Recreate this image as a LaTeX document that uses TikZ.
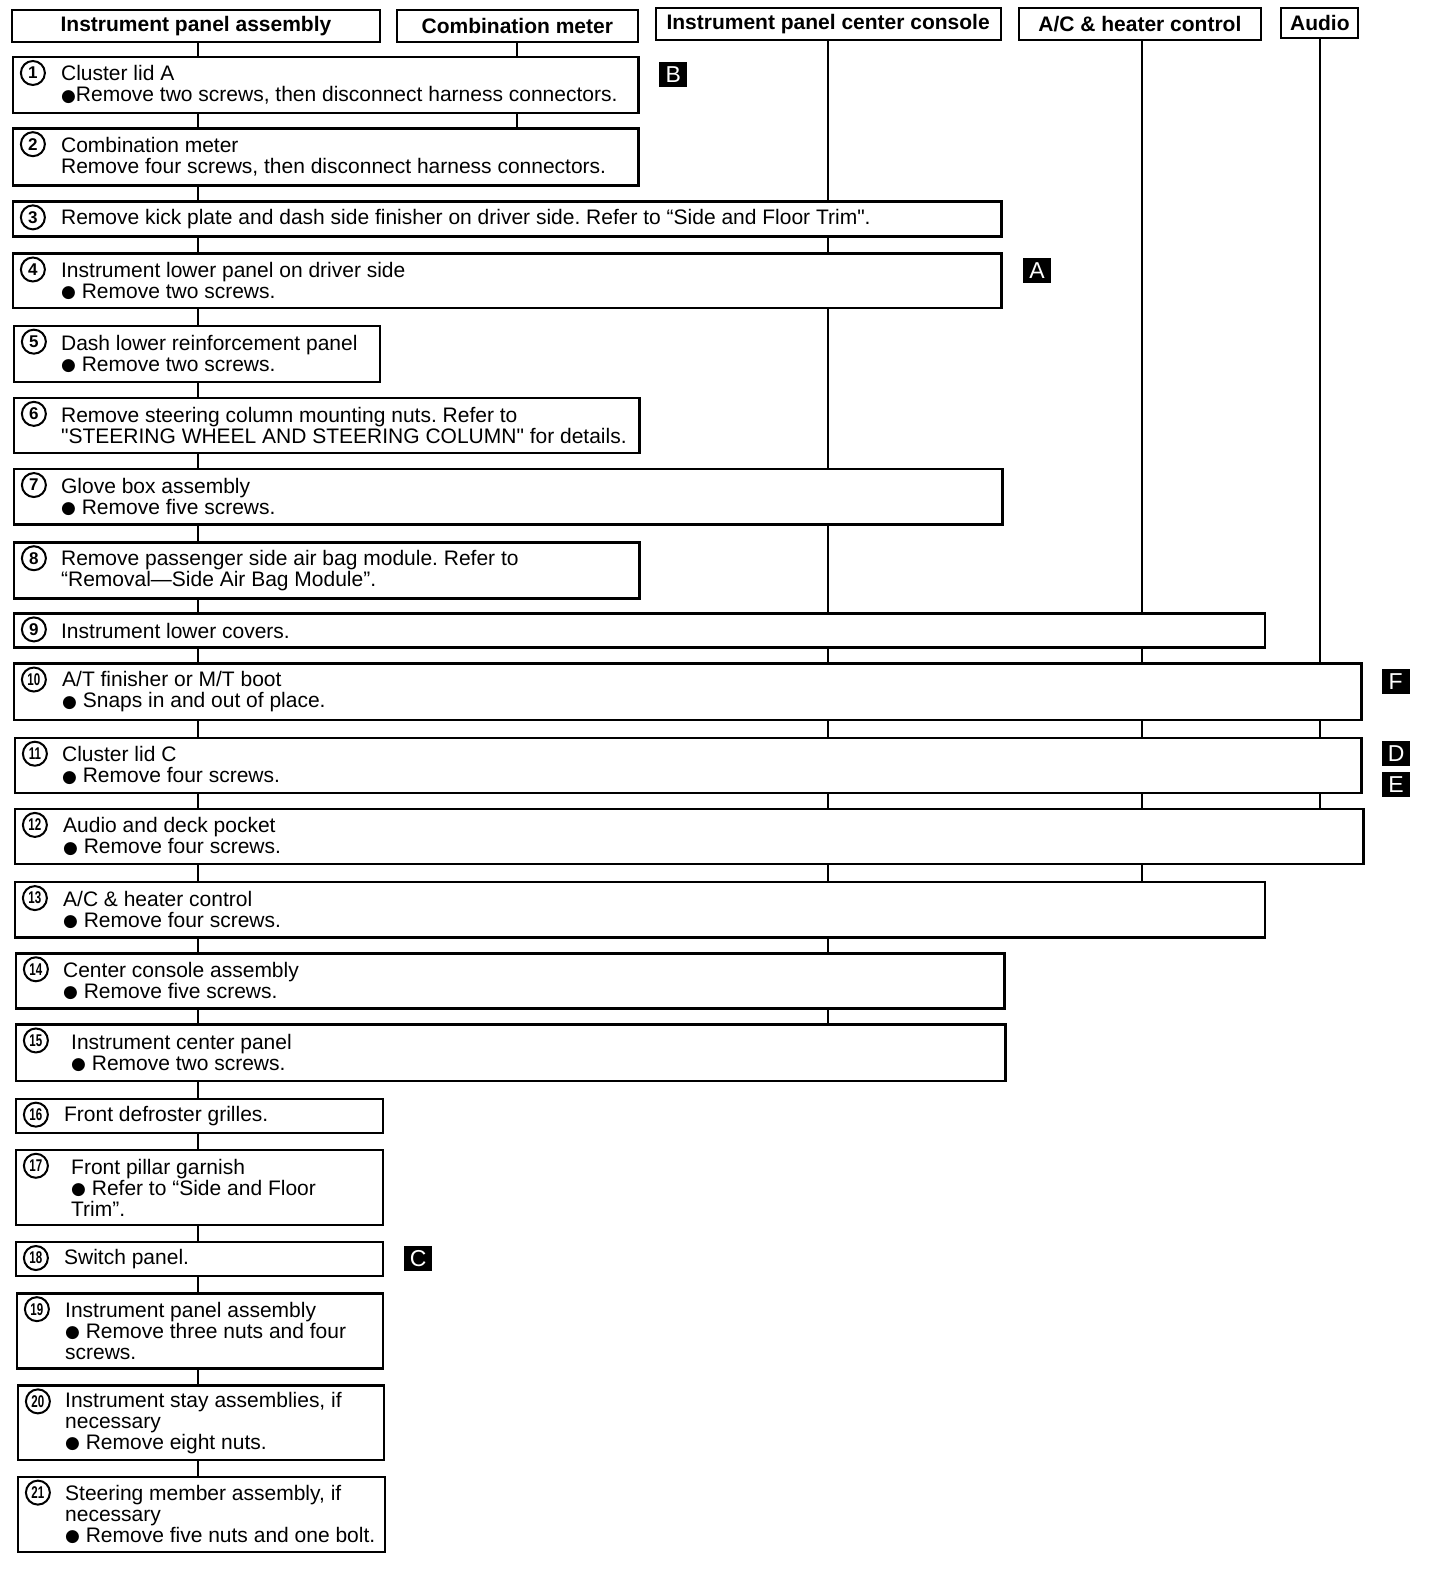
\documentclass[tikz,border=0pt]{standalone}
\usepackage{fontspec}
\setmainfont{Liberation Sans}[Ligatures=TeXOff]
\newfontfamily\symf{DejaVu Sans}
\usetikzlibrary{calc,fit}
\frenchspacing
\tikzset{
  sbox/.style={draw, line width=2.4pt, fill=white, inner sep=0pt, rectangle},
  hbox/.style={draw, line width=2pt, fill=white, inner sep=0pt, rectangle},
  htxt/.style={inner sep=0pt, font=\bfseries\fontsize{21}{22}\selectfont},
  num/.style={draw, circle, line width=2pt, minimum size=24pt, inner sep=0pt, fill=white, font=\bfseries\fontsize{17}{17}\selectfont},
  txt/.style={inner sep=0pt, align=left, font=\fontsize{21}{21}\selectfont\frenchspacing},
  tag/.style={fill=black, text=white, minimum width=28pt, minimum height=25pt, inner sep=0pt, font=\fontsize{23}{23}\selectfont},
  link/.style={line width=2pt},
}
\newcommand\bul{{\symf\fontsize{17}{17}\selectfont\raisebox{0.5pt}{●}}}
\newcommand\tw[1]{\scalebox{0.68}[1]{#1}}
% #1 name, #2 x1, #3 y1, #4 x2, #5 y2, #6 number, #7 text x offset, #8 text
\newcommand\mkbox[8]{%
  \node[sbox, fit={(#2,#3) (#4,#5)}] (#1) {};
  \node[num] (#1n) at ($(#1.north west)+(21,17)$) {#6};
  \node[txt, anchor=west] (#1t) at ($(#1.west)+(#7,0)$) {#8};
}
\begin{document}
\begin{tikzpicture}[x=1.0028pt, y=-1.0028pt]
\useasboundingbox (0,0) rectangle (1436,1568);

% headers
\node[hbox, fit={(12,10) (379,42)}] (h1) {};
\node[htxt] (h1t) at (h1.center) {Instrument panel assembly};
\node[hbox, fit={(396,10) (636,42)}] (h2) {};
\node[htxt] (h2t) at (h2.center) {Combination meter};
\node[hbox, fit={(654,8) (998,40)}] (h3) {};
\node[htxt] (h3t) at (h3.center) {Instrument panel center console};
\node[hbox, fit={(1016,8) (1258,40)}] (h4) {};
\node[htxt] (h4t) at (h4.center) {A/C \& heater control};
\node[hbox, fit={(1278,8) (1355,38)}] (h5) {};
\node[htxt] (h5t) at (h5.center) {Audio};

% step boxes
\mkbox{b1}{13}{57}{637}{113}{1}{49}{Cluster lid A\\\bul Remove two screws, then disconnect harness connectors.}
\mkbox{b2}{13}{128}{637}{185}{2}{49}{Combination meter\\Remove four screws, then disconnect harness connectors.}
\mkbox{b3}{13}{201}{999}{236}{3}{49}{Remove kick plate and dash side finisher on driver side. Refer to “Side and Floor Trim".}
\mkbox{b4}{13}{253}{999}{307}{4}{49}{Instrument lower panel on driver side\\\bul{} Remove two screws.}
\mkbox{b5}{14}{325}{379}{381}{5}{48}{Dash lower reinforcement panel\\\bul{} Remove two screws.}
\mkbox{b6}{14}{397}{638}{452}{6}{48}{Remove steering column mounting nuts. Refer to\\"STEERING WHEEL AND STEERING COLUMN" for details.}
\mkbox{b7}{14}{468}{1000}{523}{7}{48}{Glove box assembly\\\bul{} Remove five screws.}
\mkbox{b8}{14}{541}{638}{597}{8}{48}{Remove passenger side air bag module. Refer to\\“Removal—Side Air Bag Module”.}
\mkbox{b9}{14}{612}{1262}{646}{9}{48}{Instrument lower covers.}
\mkbox{b10}{14}{662}{1358}{718}{\tw{10}}{49}{A/T finisher or M/T boot\\\bul{} Snaps in and out of place.}
\mkbox{b11}{15}{736}{1358}{791}{\tw{11}}{48}{Cluster lid C\\\bul{} Remove four screws.}
\mkbox{b12}{15}{807}{1360}{862}{\tw{12}}{49}{Audio and deck pocket\\\bul{} Remove four screws.}
\mkbox{b13}{15}{880}{1262}{935}{\tw{13}}{49}{A/C \& heater control\\\bul{} Remove four screws.}
\mkbox{b14}{16}{951}{1002}{1006}{\tw{14}}{48}{Center console assembly\\\bul{} Remove five screws.}
\mkbox{b15}{16}{1022}{1003}{1078}{\tw{15}}{56}{Instrument center panel\\\bul{} Remove two screws.}
\mkbox{b16}{16}{1096}{382}{1130}{\tw{16}}{49}{Front defroster grilles.}
\mkbox{b17}{16}{1147}{382}{1222}{\tw{17}}{56}{Front pillar garnish\\\bul{} Refer to “Side and Floor\\Trim”.}
\mkbox{b18}{16}{1239}{382}{1273}{\tw{18}}{49}{Switch panel.}
\mkbox{b19}{17}{1290}{382}{1365}{\tw{19}}{49}{Instrument panel assembly\\\bul{} Remove three nuts and four\\screws.}
\mkbox{b20}{18}{1382}{383}{1456}{\tw{20}}{48}{Instrument stay assemblies, if\\necessary\\\bul{} Remove eight nuts.}
\mkbox{b21}{18}{1473}{384}{1548}{\tw{21}}{48}{Steering member assembly, if\\necessary\\\bul{} Remove five nuts and one bolt.}

% tags
\node[tag] (tagB) at (671.5,74) {B};
\node[tag] (tagA) at (1034.5,269.5) {A};
\node[tag] (tagF) at (1392,680) {F};
\node[tag] (tagD) at (1392.5,751.5) {D};
\node[tag] (tagE) at (1392.5,782.5) {E};
\node[tag] (tagC) at (417,1255.5) {C};

% connectors
\coordinate (mainx) at (197,0);
\draw[link] (h1.south -| mainx) -- (b1.north -| mainx);
\foreach \a/\b in {b1/b2,b2/b3,b3/b4,b4/b5,b5/b6,b6/b7,b7/b8,b8/b9,b9/b10,b10/b11,b11/b12,b12/b13,b13/b14,b14/b15,b15/b16,b16/b17,b17/b18,b18/b19,b19/b20,b20/b21}
  \draw[link] (\a.south -| mainx) -- (\b.north -| mainx);
\draw[link] (h2.south) -- (b1.north -| h2.south);
\draw[link] (b1.south -| h2.south) -- (b2.north -| h2.south);
\draw[link] (h3.south) -- (b3.north -| h3.south);
\foreach \a/\b in {b3/b4,b4/b7,b7/b9,b9/b10,b10/b11,b11/b12,b12/b13,b13/b14,b14/b15}
  \draw[link] (\a.south -| h3.south) -- (\b.north -| h3.south);
\coordinate (acx) at (1139,0);
\draw[link] (h4.south -| acx) -- (b9.north -| acx);
\foreach \a/\b in {b9/b10,b10/b11,b11/b12,b12/b13}
  \draw[link] (\a.south -| acx) -- (\b.north -| acx);
\draw[link] (h5.south) -- (b10.north -| h5.south);
\foreach \a/\b in {b10/b11,b11/b12}
  \draw[link] (\a.south -| h5.south) -- (\b.north -| h5.south);
\end{tikzpicture}
\end{document}
